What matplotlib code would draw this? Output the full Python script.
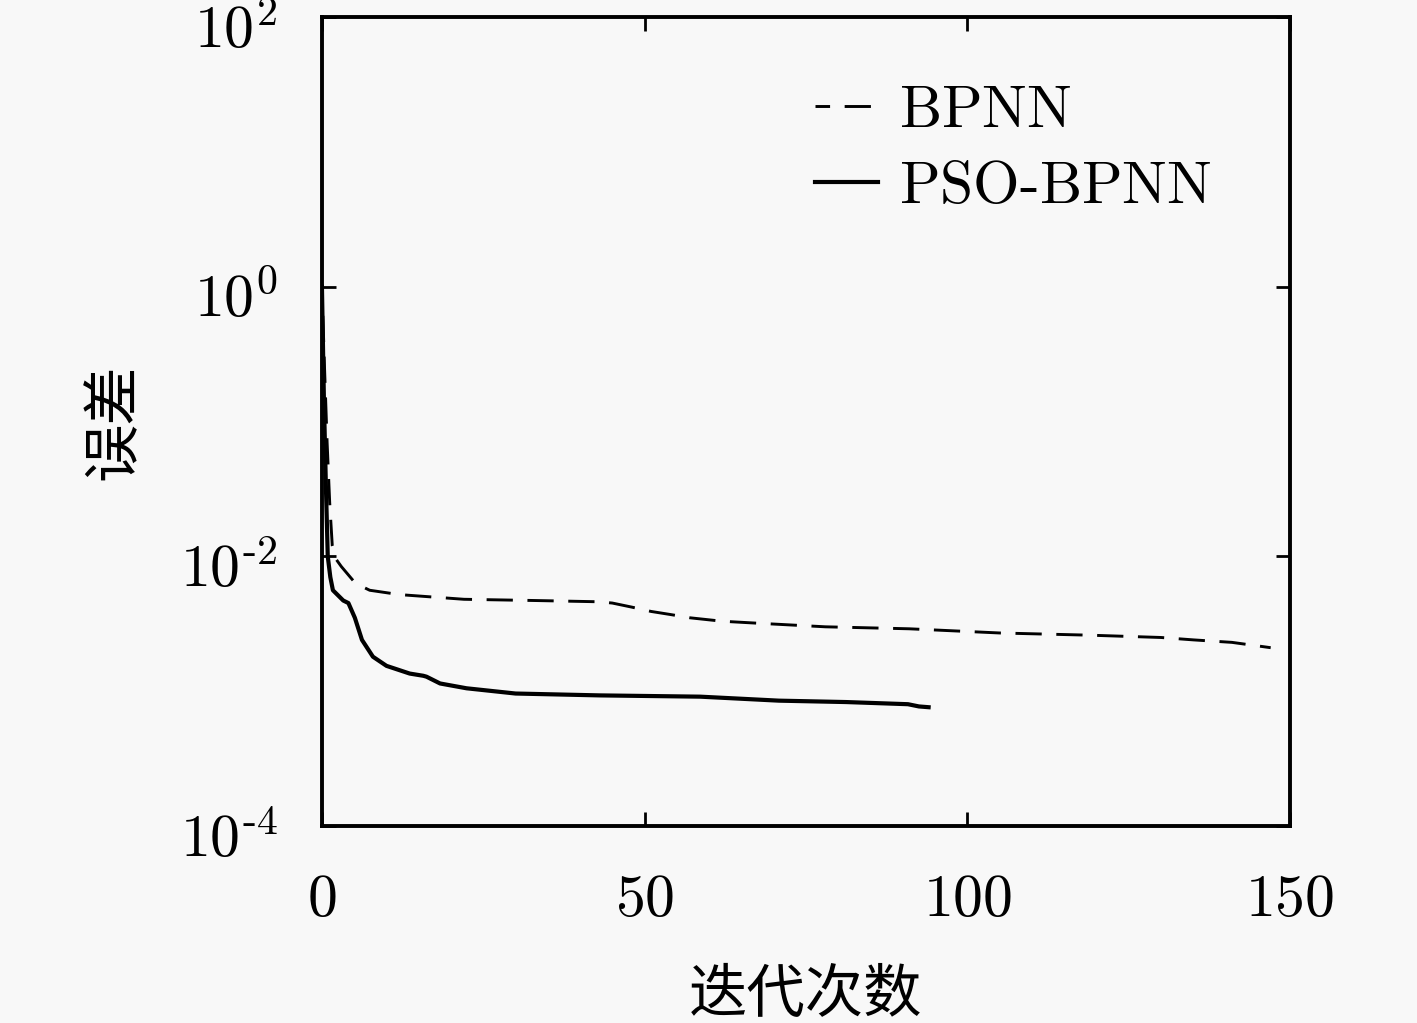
import matplotlib
matplotlib.use("Agg")
import matplotlib.pyplot as plt
from matplotlib.transforms import ScaledTranslation

plt.rcParams['mathtext.fontset'] = 'cm'
plt.rcParams['font.family'] = ['DejaVu Serif']

# iterations / error
bp_x = [0, 0.4, 0.8, 1.2, 1.6, 2.2, 3, 5.2, 7.4, 12, 22, 33, 43, 45, 48,
        51, 54, 57, 62, 67, 78, 91, 105, 119, 130, 135, 141, 147]
bp_y = [1.0, 0.25, 0.07, 0.025, 0.012, 0.0095, 0.0084, 0.0063, 0.0056,
        0.0052, 0.0048, 0.0047, 0.0046, 0.0045, 0.0042, 0.0039, 0.0037,
        0.0035, 0.0033, 0.0032, 0.0030, 0.0029, 0.0027, 0.0026, 0.0025,
        0.0024, 0.0023, 0.0021]

pso_x = [0, 0.3, 0.6, 0.9, 1.3, 1.7, 3.3, 4.1, 5.1, 6.2, 7.9, 10, 13.6,
         15.7, 16.2, 18.3, 22.4, 30, 43, 58.6, 70.8, 81.2, 90.8, 92.5, 94]
pso_y = [1.0, 0.15, 0.035, 0.01, 0.007, 0.0056, 0.0047, 0.0045, 0.0035,
         0.0024, 0.0018, 0.00154, 0.00135, 0.0013, 0.00128, 0.00114,
         0.00105, 0.00096, 0.00093, 0.00091, 0.00085, 0.00083, 0.0008,
         0.00077, 0.00076]

xticks = [0, 50, 100, 150]
yticks = [1e-4, 1e-2, 1e0, 1e2]
ytick_labels = [r'$10^{\text{-}4}$', r'$10^{\text{-}2}$', r'$10^{0}$', r'$10^{2}$']

bg = '#f8f8f8'
fig = plt.figure(figsize=(14.17, 10.23), dpi=100, facecolor=bg)
ax = fig.add_axes([0.2272, 0.1926, 0.6832, 0.7908], facecolor=bg)

ax.plot(bp_x, bp_y, color='black', lw=2.1, linestyle=(4, (9, 5)), label='BPNN')
ax.plot(pso_x, pso_y, color='black', lw=3.0, label='PSO-BPNN')

ax.set_yscale('log')
ax.set_xlim(0, 150)
ax.set_ylim(1e-4, 1e2)
ax.set_xticks(xticks)
ax.set_xticklabels([r'$%d$' % v for v in xticks])
ax.set_yticks(yticks)
ax.set_yticklabels(ytick_labels)
ax.minorticks_off()
ax.tick_params(which='both', direction='in', top=True, right=True,
               length=10, width=2, labelsize=43)
ax.tick_params(axis='x', pad=32)
ax.tick_params(axis='y', pad=32)
shift = ScaledTranslation(0, -0.08, fig.dpi_scale_trans)
for lab in ax.get_yticklabels():
    lab.set_verticalalignment('center_baseline')
    lab.set_transform(lab.get_transform() + shift)
for s in ax.spines.values():
    s.set_linewidth(2.8)

ax.set_xlabel('迭代次数', family=['Noto Sans CJK SC'], fontsize=42, labelpad=26)
ax.set_ylabel('误差', family=['Noto Sans CJK SC'], fontsize=42, labelpad=25)

leg = ax.legend(loc='upper left', bbox_to_anchor=(0.454, 0.987), frameon=False,
                handlelength=1.05, handletextpad=0.35, labelspacing=0.3,
                prop={'family': 'DejaVu Serif', 'size': 43})
leg.get_texts()[0].set_text(r'$\mathrm{BPNN}$')
leg.get_texts()[1].set_text(r'$\mathrm{PSO}\text{-}\mathrm{BPNN}$')

fig.savefig('out.png', dpi=100, facecolor=bg)
